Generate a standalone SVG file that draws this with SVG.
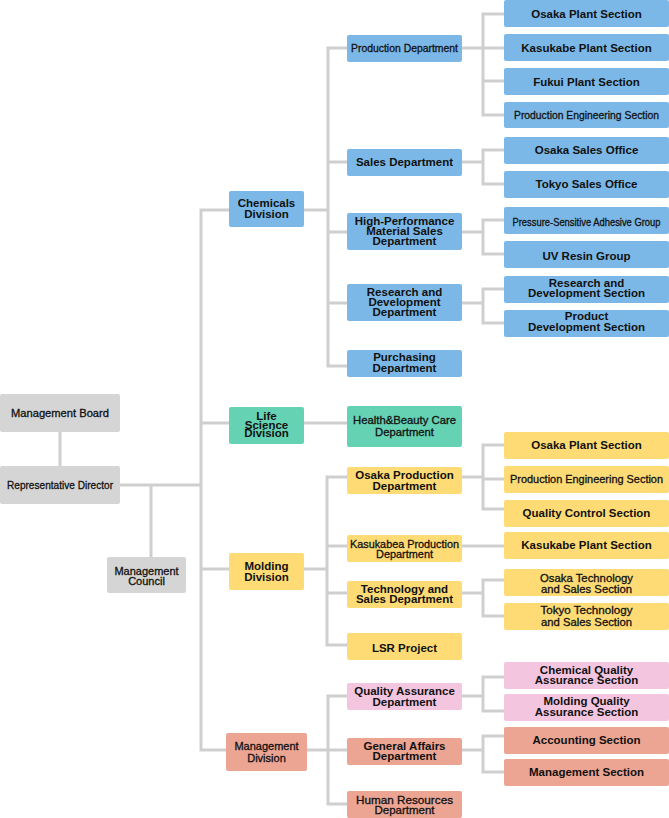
<svg xmlns="http://www.w3.org/2000/svg" width="669" height="818" viewBox="0 0 669 818">
<style>
rect{rx:2px;ry:2px}
.b{fill:#7bb8e7}.g{fill:#66d2b4}.y{fill:#fedb75}.p{fill:#f4c5df}.s{fill:#eba592}.k{fill:#d5d5d5}
text{font-family:"Liberation Sans",Arial,sans-serif;fill:#111;text-anchor:middle}
.t{font-size:11.5px;font-weight:bold}
.c{font-size:11px;font-weight:normal;stroke:#111;stroke-width:0.3px}
.r{font-size:11.5px;font-weight:normal;stroke:#111;stroke-width:0.3px}
#connectors polyline,#connectors line{fill:none;stroke:#cfcfcf;stroke-width:3}
</style>
<rect width="669" height="818" fill="#fff" rx="0" ry="0"/>
<g id="connectors">
<line x1="60" y1="432" x2="60" y2="466"/>
<line x1="120" y1="485" x2="201" y2="485"/>
<line x1="151" y1="485" x2="151" y2="557"/>
<polyline points="229,210 201,210 201,750 226,750"/>
<line x1="201" y1="423" x2="229" y2="423"/>
<line x1="201" y1="569" x2="229" y2="569"/>
<line x1="304" y1="210" x2="328" y2="210"/>
<polyline points="347,48 328,48 328,366 347,366"/>
<line x1="328" y1="162" x2="347" y2="162"/>
<line x1="328" y1="232" x2="347" y2="232"/>
<line x1="328" y1="303" x2="347" y2="303"/>
<line x1="462" y1="48" x2="483" y2="48"/>
<polyline points="504,14 483,14 483,115 504,115"/>
<line x1="483" y1="48" x2="504" y2="48"/>
<line x1="483" y1="81" x2="504" y2="81"/>
<line x1="462" y1="162" x2="483" y2="162"/>
<polyline points="504,150 483,150 483,184 504,184"/>
<line x1="462" y1="232" x2="483" y2="232"/>
<polyline points="504,220 483,220 483,254 504,254"/>
<line x1="462" y1="303" x2="483" y2="303"/>
<polyline points="504,289 483,289 483,323 504,323"/>
<line x1="304" y1="423" x2="347" y2="423"/>
<line x1="304" y1="569" x2="327" y2="569"/>
<polyline points="347,477 327,477 327,645 347,645"/>
<line x1="327" y1="546" x2="347" y2="546"/>
<line x1="327" y1="593" x2="347" y2="593"/>
<line x1="462" y1="477" x2="483" y2="477"/>
<polyline points="504,445 483,445 483,509 504,509"/>
<line x1="483" y1="479" x2="504" y2="479"/>
<line x1="462" y1="546" x2="504" y2="546"/>
<line x1="462" y1="593" x2="483" y2="593"/>
<polyline points="504,580 483,580 483,616 504,616"/>
<line x1="307" y1="750" x2="328" y2="750"/>
<polyline points="347,696 328,696 328,804 347,804"/>
<line x1="328" y1="750" x2="347" y2="750"/>
<line x1="462" y1="696" x2="483" y2="696"/>
<polyline points="504,677 483,677 483,711 504,711"/>
<line x1="462" y1="750" x2="483" y2="750"/>
<polyline points="504,736 483,736 483,772 504,772"/>
</g>

<g id="management-board"><rect class="k" x="0" y="394" width="120" height="38"/><text class="c" x="60" y="417" textLength="98" lengthAdjust="spacingAndGlyphs">Management Board</text></g>
<g id="representative-director"><rect class="k" x="0" y="466" width="120" height="38"/><text class="c" x="60" y="489" textLength="106" lengthAdjust="spacingAndGlyphs">Representative Director</text></g>
<g id="management-council"><rect class="k" x="107" y="557" width="79" height="36"/><text class="c" x="146.5" y="574.5">Management</text><text class="c" x="146.5" y="585">Council</text></g>

<g id="chemicals-division"><rect class="b" x="229" y="191" width="75" height="36"/><text class="t" x="266.5" y="207">Chemicals</text><text class="t" x="266.5" y="218">Division</text></g>
<g id="life-science-division"><rect class="g" x="229" y="407" width="75" height="37"/><text class="t" x="266.5" y="420">Life</text><text class="t" x="266.5" y="429">Science</text><text class="t" x="266.5" y="437">Division</text></g>
<g id="molding-division"><rect class="y" x="229" y="553" width="75" height="37"/><text class="t" x="266.5" y="570">Molding</text><text class="t" x="266.5" y="580.5">Division</text></g>
<g id="management-division"><rect class="s" x="226" y="733" width="81" height="38"/><text class="c" x="266.5" y="750">Management</text><text class="c" x="266.5" y="761.5">Division</text></g>

<g id="production-department"><rect class="b" x="347" y="35" width="115" height="27"/><text class="c" x="404.5" y="52" textLength="107" lengthAdjust="spacingAndGlyphs">Production Department</text></g>
<g id="sales-department"><rect class="b" x="347" y="149" width="115" height="27"/><text class="t" x="404.5" y="166">Sales Department</text></g>
<g id="high-performance"><rect class="b" x="347" y="213" width="115" height="37"/><text class="t" x="404.5" y="225">High-Performance</text><text class="t" x="404.5" y="235">Material Sales</text><text class="t" x="404.5" y="245">Department</text></g>
<g id="rd-department"><rect class="b" x="347" y="284" width="115" height="37"/><text class="t" x="404.5" y="296">Research and</text><text class="t" x="404.5" y="306">Development</text><text class="t" x="404.5" y="316">Department</text></g>
<g id="purchasing-department"><rect class="b" x="347" y="350" width="115" height="27"/><text class="t" x="404.5" y="360.5">Purchasing</text><text class="t" x="404.5" y="371.5">Department</text></g>
<g id="health-beauty"><rect class="g" x="347" y="406" width="115" height="41"/><text class="c" x="404.5" y="423.5" textLength="103" lengthAdjust="spacingAndGlyphs">Health&amp;Beauty Care</text><text class="c" x="404.5" y="436" textLength="59" lengthAdjust="spacingAndGlyphs">Department</text></g>
<g id="osaka-production"><rect class="y" x="347" y="467" width="115" height="27"/><text class="t" x="404.5" y="479">Osaka Production</text><text class="t" x="404.5" y="490">Department</text></g>
<g id="kasukabea-production"><rect class="y" x="347" y="535" width="115" height="27"/><text class="c" x="404.5" y="547.5" textLength="109" lengthAdjust="spacingAndGlyphs">Kasukabea Production</text><text class="c" x="404.5" y="558" textLength="57" lengthAdjust="spacingAndGlyphs">Department</text></g>
<g id="technology-sales"><rect class="y" x="347" y="581" width="115" height="27"/><text class="t" x="404.5" y="593">Technology and</text><text class="t" x="404.5" y="603">Sales Department</text></g>
<g id="lsr-project"><rect class="y" x="347" y="633" width="115" height="27"/><text class="t" x="404.5" y="651.5">LSR Project</text></g>
<g id="quality-assurance"><rect class="p" x="347" y="683" width="115" height="27"/><text class="t" x="404.5" y="695">Quality Assurance</text><text class="t" x="404.5" y="705.5">Department</text></g>
<g id="general-affairs"><rect class="s" x="347" y="738" width="115" height="27"/><text class="t" x="404.5" y="750">General Affairs</text><text class="t" x="404.5" y="760">Department</text></g>
<g id="human-resources"><rect class="s" x="347" y="791" width="115" height="27"/><text class="r" x="404.5" y="804" textLength="97" lengthAdjust="spacingAndGlyphs">Human Resources</text><text class="r" x="404.5" y="814">Department</text></g>

<g id="osaka-plant-1"><rect class="b" x="504" y="0" width="165" height="27"/><text class="t" x="586.5" y="17.5">Osaka Plant Section</text></g>
<g id="kasukabe-plant-1"><rect class="b" x="504" y="34" width="165" height="27"/><text class="t" x="586.5" y="51.5">Kasukabe Plant Section</text></g>
<g id="fukui-plant"><rect class="b" x="504" y="68" width="165" height="27"/><text class="t" x="586.5" y="85.5">Fukui Plant Section</text></g>
<g id="production-engineering-1"><rect class="b" x="504" y="102" width="165" height="26"/><text class="c" x="586.5" y="119" textLength="145" lengthAdjust="spacingAndGlyphs">Production Engineering Section</text></g>
<g id="osaka-sales"><rect class="b" x="504" y="137" width="165" height="27"/><text class="t" x="586.5" y="154">Osaka Sales Office</text></g>
<g id="tokyo-sales"><rect class="b" x="504" y="171" width="165" height="27"/><text class="t" x="586.5" y="188">Tokyo Sales Office</text></g>
<g id="pressure-sensitive"><rect class="b" x="504" y="207" width="165" height="27"/><text class="c" x="586.5" y="226" textLength="148" lengthAdjust="spacingAndGlyphs">Pressure-Sensitive Adhesive Group</text></g>
<g id="uv-resin"><rect class="b" x="504" y="241" width="165" height="27"/><text class="t" x="586.5" y="260">UV Resin Group</text></g>
<g id="rd-section"><rect class="b" x="504" y="276" width="165" height="27"/><text class="t" x="586.5" y="287">Research and</text><text class="t" x="586.5" y="297">Development Section</text></g>
<g id="product-development"><rect class="b" x="504" y="310" width="165" height="27"/><text class="t" x="586.5" y="320">Product</text><text class="t" x="586.5" y="330.5">Development Section</text></g>
<g id="osaka-plant-2"><rect class="y" x="504" y="432" width="165" height="27"/><text class="t" x="586.5" y="449">Osaka Plant Section</text></g>
<g id="production-engineering-2"><rect class="y" x="504" y="466" width="165" height="27"/><text class="c" x="586.5" y="483" textLength="153" lengthAdjust="spacingAndGlyphs" font-weight="bold" stroke-width="0">Production Engineering Section</text></g>
<g id="quality-control"><rect class="y" x="504" y="500" width="165" height="27"/><text class="t" x="586.5" y="517">Quality Control Section</text></g>
<g id="kasukabe-plant-2"><rect class="y" x="504" y="532" width="165" height="27"/><text class="t" x="586.5" y="549">Kasukabe Plant Section</text></g>
<g id="osaka-technology"><rect class="y" x="504" y="569" width="165" height="27"/><text class="c" x="586.5" y="581.5" textLength="93" lengthAdjust="spacingAndGlyphs">Osaka Technology</text><text class="c" x="586.5" y="593" textLength="91" lengthAdjust="spacingAndGlyphs">and Sales Section</text></g>
<g id="tokyo-technology"><rect class="y" x="504" y="603" width="165" height="27"/><text class="c" x="586.5" y="614" textLength="92" lengthAdjust="spacingAndGlyphs">Tokyo Technology</text><text class="c" x="586.5" y="625.5" textLength="91" lengthAdjust="spacingAndGlyphs">and Sales Section</text></g>
<g id="chemical-qa"><rect class="p" x="504" y="662" width="165" height="27"/><text class="t" x="586.5" y="674">Chemical Quality</text><text class="t" x="586.5" y="684">Assurance Section</text></g>
<g id="molding-qa"><rect class="p" x="504" y="694" width="165" height="27"/><text class="t" x="586.5" y="705">Molding Quality</text><text class="t" x="586.5" y="715.5">Assurance Section</text></g>
<g id="accounting"><rect class="s" x="504" y="727" width="165" height="27"/><text class="t" x="586.5" y="744">Accounting Section</text></g>
<g id="management-section"><rect class="s" x="504" y="759" width="165" height="27"/><text class="t" x="586.5" y="776">Management Section</text></g>
</svg>
